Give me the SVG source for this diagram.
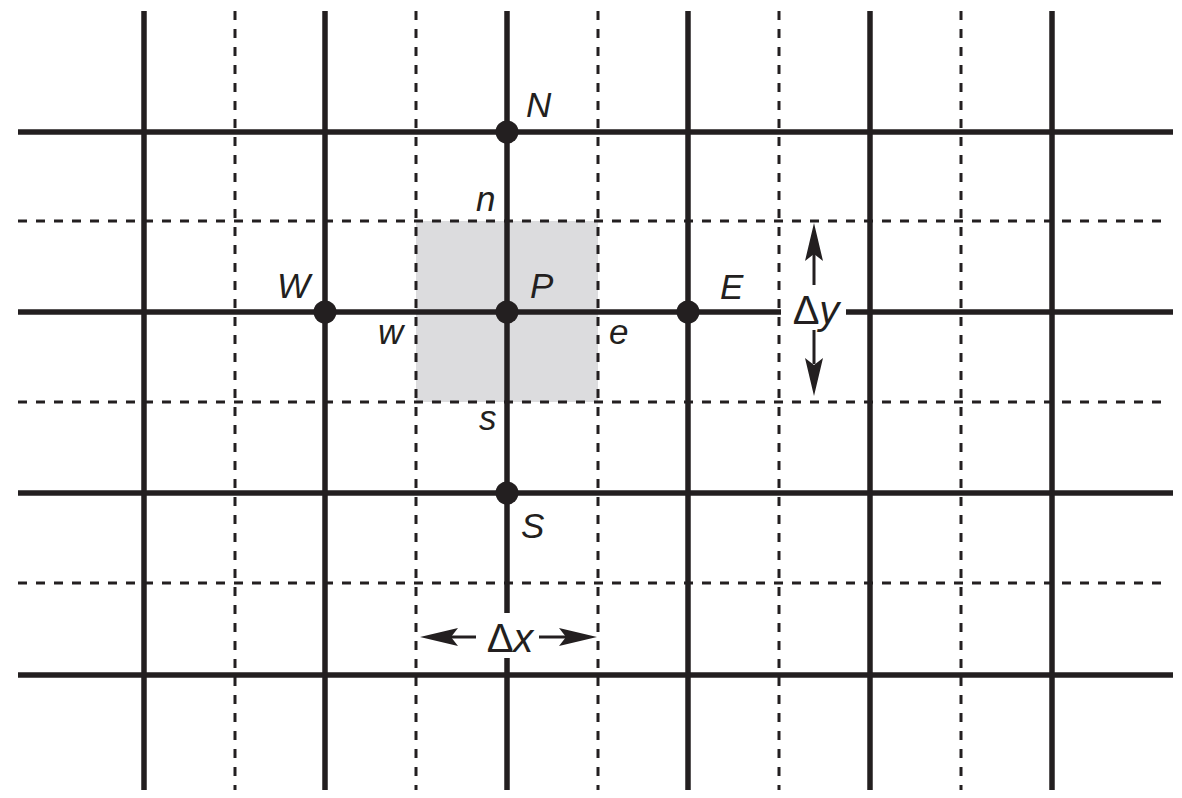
<svg xmlns="http://www.w3.org/2000/svg" width="1182" height="798" viewBox="0 0 1182 798">
<style>
.solid{stroke:#231f20;stroke-width:5.5;fill:none}
.dash{stroke:#231f20;stroke-width:3;stroke-dasharray:9 9;fill:none}
.lbl{font-family:"Liberation Sans",Arial,sans-serif;font-style:italic;font-size:35px;fill:#231f20}
.dl{font-family:"Liberation Sans",Arial,sans-serif;font-size:40px;fill:#231f20}
.dot{fill:#231f20}
.arr{stroke:#231f20;stroke-width:3;fill:none}
.head{fill:#231f20}
</style>
<rect width="1182" height="798" fill="#ffffff"/>
<rect id="cell" x="416" y="221" width="182" height="181" fill="#dcdcde"/>
<g id="grid">
<g id="dashed">
<line class="dash" x1="235" y1="11" x2="235" y2="790"/>
<line class="dash" x1="416" y1="11" x2="416" y2="790"/>
<line class="dash" x1="598" y1="11" x2="598" y2="790"/>
<line class="dash" x1="779" y1="11" x2="779" y2="790"/>
<line class="dash" x1="961" y1="11" x2="961" y2="790"/>
<line class="dash" x1="18" y1="221" x2="1166" y2="221"/>
<line class="dash" x1="18" y1="402" x2="1166" y2="402"/>
<line class="dash" x1="18" y1="583" x2="1166" y2="583"/>
</g>
<g id="solidlines">
<line class="solid" x1="144" y1="11" x2="144" y2="790"/>
<line class="solid" x1="325" y1="11" x2="325" y2="790"/>
<line class="solid" x1="507" y1="11" x2="507" y2="613"/>
<line class="solid" x1="507" y1="658" x2="507" y2="790"/>
<line class="solid" x1="688" y1="11" x2="688" y2="790"/>
<line class="solid" x1="870" y1="11" x2="870" y2="790"/>
<line class="solid" x1="1052" y1="11" x2="1052" y2="790"/>
<line class="solid" x1="18" y1="132" x2="1173" y2="132"/>
<line class="solid" x1="18" y1="312" x2="781" y2="312"/>
<line class="solid" x1="846" y1="312" x2="1173" y2="312"/>
<line class="solid" x1="18" y1="493" x2="1173" y2="493"/>
<line class="solid" x1="18" y1="675" x2="1173" y2="675"/>
</g>
</g>
<g id="node-N"><circle class="dot" cx="507" cy="132" r="11.5"/><text class="lbl" x="526" y="117">N</text></g>
<g id="node-W"><circle class="dot" cx="325" cy="312" r="11.5"/><text class="lbl" x="277" y="298">W</text></g>
<g id="node-P"><circle class="dot" cx="507" cy="312" r="11.5"/><text class="lbl" x="530" y="298">P</text></g>
<g id="node-E"><circle class="dot" cx="688" cy="312" r="11.5"/><text class="lbl" x="720" y="299">E</text></g>
<g id="node-S"><circle class="dot" cx="507" cy="493" r="11.5"/><text class="lbl" x="521" y="538">S</text></g>
<g id="faces">
<text class="lbl" x="476" y="211">n</text>
<text class="lbl" x="378" y="344">w</text>
<text class="lbl" x="609" y="344">e</text>
<text class="lbl" x="479" y="430">s</text>
</g>
<g id="connectors">
<line class="arr" x1="450" y1="637" x2="476" y2="637"/>
<path class="head" d="M420,637 L458,628 L451,637 L458,646 Z"/>
<line class="arr" x1="539" y1="637" x2="566" y2="637"/>
<path class="head" d="M597,637 L559,628 L566,637 L559,646 Z"/>
<line class="arr" x1="814" y1="253" x2="814" y2="285"/>
<path class="head" d="M814,223 L805,261 L814,254 L823,261 Z"/>
<line class="arr" x1="814" y1="330" x2="814" y2="364"/>
<path class="head" d="M814,396 L805,358 L814,365 L823,358 Z"/>
</g>
<g id="dims">
<text class="dl" x="510" y="652" text-anchor="middle">Δ<tspan font-style="italic">x</tspan></text>
<text class="dl" x="816" y="324" text-anchor="middle">Δ<tspan font-style="italic">y</tspan></text>
</g>
</svg>
